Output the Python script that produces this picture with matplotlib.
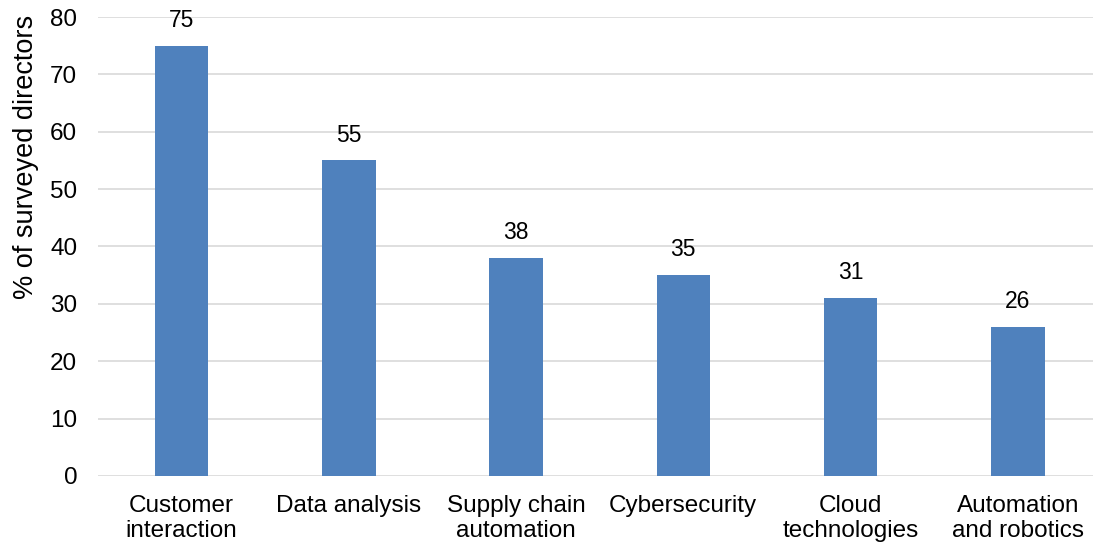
import matplotlib.pyplot as plt

plt.rcParams["font.family"] = ["Liberation Sans", "DejaVu Sans"]

categories = [
    "Customer\ninteraction",
    "Data analysis",
    "Supply chain\nautomation",
    "Cybersecurity",
    "Cloud\ntechnologies",
    "Automation\nand robotics",
]
values = [75, 55, 38, 35, 31, 26]
yticks = [0, 10, 20, 30, 40, 50, 60, 70, 80]

fig = plt.figure(figsize=(10.93, 5.46), dpi=100)
ax = fig.add_axes([98 / 1093, 70 / 546, 1 - 98 / 1093, 459 / 546])

x = list(range(len(categories)))
ax.bar(x, values, width=0.32, color="#4F81BD", zorder=3)

for xi, v in zip(x, values):
    ax.annotate(str(v), (xi, v), xytext=(0, 10), textcoords="offset points",
                ha="center", va="bottom", fontsize=16.5)

ax.set_xlim(-0.5, 5.45)
ax.set_ylim(0, 80)
ax.set_yticks(yticks)
ax.set_xticks(x)
ax.set_xticklabels(categories, fontsize=17.5, linespacing=1.15)
ax.tick_params(axis="y", labelsize=17.5, length=0, pad=15)
ax.tick_params(axis="x", length=0, pad=14)
ax.grid(axis="y", color="#D9D9D9", linewidth=1.2, zorder=0)
for s in ax.spines.values():
    s.set_visible(False)
ax.set_ylabel("% of surveyed directors", fontsize=19.5)
ax.yaxis.set_label_coords(-0.059, 0.695)

plt.savefig("out.png", dpi=100)
